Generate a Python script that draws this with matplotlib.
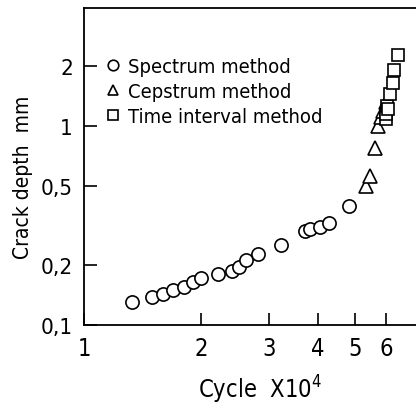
import matplotlib.pyplot as plt
from matplotlib.ticker import FixedLocator, FixedFormatter, NullLocator

# crack depth (mm) vs load cycles (x10^4), three measuring methods
spectrum_cycle = [1.33, 1.50, 1.60, 1.70, 1.81, 1.91, 2.00, 2.21, 2.41, 2.51,
                  2.61, 2.81, 3.21, 3.71, 3.82, 4.06, 4.29, 4.82]
spectrum_depth = [0.130, 0.139, 0.143, 0.150, 0.156, 0.165, 0.172, 0.180, 0.187, 0.195,
                  0.211, 0.226, 0.253, 0.298, 0.304, 0.310, 0.326, 0.395]

cepstrum_cycle = [5.33, 5.47, 5.62, 5.71, 5.82, 5.91, 6.00]
cepstrum_depth = [0.50, 0.56, 0.77, 1.00, 1.11, 1.19, 1.31]

interval_cycle = [5.99, 5.99, 6.05, 6.08, 6.15, 6.27, 6.31, 6.46]
interval_depth = [1.08, 1.15, 1.26, 1.21, 1.44, 1.64, 1.91, 2.26]

x_ticks = [1, 2, 3, 4, 5, 6]
x_labels = ["1", "2", "3", "4", "5", "6"]
y_ticks = [0.1, 0.2, 0.5, 1, 2]
y_labels = ["0,1", "0,2", "0,5", "1", "2"]

plt.rcParams['font.family'] = ['DejaVu Sans']
plt.rcParams['font.stretch'] = 'condensed'
plt.rcParams['mathtext.fontset'] = 'custom'
plt.rcParams['mathtext.rm'] = 'DejaVu Sans:stretch=condensed'

fig = plt.figure(figsize=(4.16, 4.10), dpi=100)
ax = fig.add_axes([84 / 416, 84 / 410, 1 - 84 / 416, 317 / 410])

mk = dict(linestyle='none', markerfacecolor='white', markeredgecolor='black',
          markeredgewidth=1.2)
ax.plot(spectrum_cycle, spectrum_depth, marker='o', markersize=9.5, label='Spectrum method', **mk)
ax.plot(cepstrum_cycle, cepstrum_depth, marker='^', markersize=9.5, label='Cepstrum method', **mk)
ax.plot(interval_cycle, interval_depth, marker='s', markersize=9, label='Time interval method', **mk)

ax.set_xscale('log')
ax.set_yscale('log')
ax.set_xlim(1, 10 ** (332 / 388))
ax.set_ylim(0.1, 3.9)

ax.xaxis.set_major_locator(FixedLocator(x_ticks))
ax.xaxis.set_major_formatter(FixedFormatter(x_labels))
ax.yaxis.set_major_locator(FixedLocator(y_ticks))
ax.yaxis.set_major_formatter(FixedFormatter(y_labels))
ax.xaxis.set_minor_locator(NullLocator())
ax.yaxis.set_minor_locator(NullLocator())
ax.tick_params(direction='in', length=9, width=1.2, pad=8)
ax.tick_params(axis='x', labelsize=17)
ax.tick_params(axis='y', labelsize=16)
ax.spines['right'].set_visible(False)
for side in ['left', 'bottom', 'top']:
    ax.spines[side].set_linewidth(1.3)

ax.set_xlabel(r'Cycle  X10$^4$', fontsize=17)
ax.xaxis.set_label_coords(0.53, -0.15)
ax.set_ylabel('Crack depth  mm', fontsize=15)
ax.yaxis.set_label_coords(-0.155, 0.47)

ax.legend(loc='upper left', bbox_to_anchor=(0.04, 0.87), frameon=False, fontsize=14.5,
          handlelength=0.8, handletextpad=0.35, labelspacing=0.3, markerscale=0.8,
          borderaxespad=0)

fig.savefig('out.png')
